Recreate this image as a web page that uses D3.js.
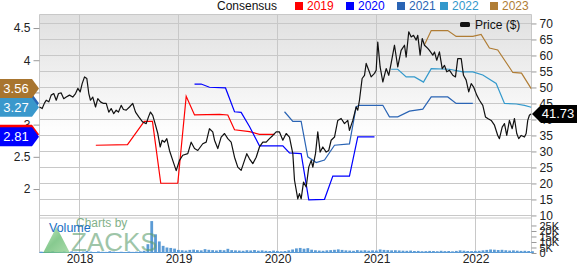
<!DOCTYPE html>
<html><head><meta charset="utf-8">
<script src="https://cdn.jsdelivr.net/npm/d3@7/dist/d3.min.js"></script>
<style>body{margin:0;background:#fff}svg{display:block;font-family:"Liberation Sans",Arial,sans-serif}</style>
</head><body><svg id="c" width="577" height="265"></svg>
<script>
// ---------- data (dates as decimal years) ----------
const years = [2018, 2019, 2020, 2021, 2022];
const epsTicks = [2, 2.5, 3, 3.5, 4, 4.5];
const priceTicks = [10, 15, 20, 25, 30, 35, 40, 45, 50, 55, 60, 65, 70];
const volTicks = [0, 5, 10, 15, 20, 25];
const seriesNames = ["2019", "2020", "2021", "2022", "2023"];
const seriesColors = ["#ff0000", "#0000ff", "#2a64b4", "#3399cc", "#b07d35"];
const badgeColors = ["#ff0000", "#0000ff", "#2a64b4", "#3a98cc", "#a8752f"];
const badgeLabelShown = [false, true, false, true, true];

const priceDates = [2017.596,2017.623,2017.646,2017.664,2017.690,2017.714,2017.740,2017.765,2017.788,2017.815,2017.841,2017.866,2017.899,2017.932,2017.960,2017.983,2018.007,2018.027,2018.051,2018.074,2018.094,2018.111,2018.134,2018.162,2018.185,2018.212,2018.242,2018.270,2018.296,2018.320,2018.346,2018.371,2018.394,2018.421,2018.444,2018.472,2018.505,2018.538,2018.566,2018.599,2018.639,2018.674,2018.697,2018.717,2018.740,2018.768,2018.791,2018.815,2018.835,2018.859,2018.882,2018.909,2018.942,2018.977,2019.010,2019.043,2019.094,2019.128,2019.162,2019.195,2019.245,2019.280,2019.313,2019.346,2019.364,2019.397,2019.431,2019.465,2019.498,2019.532,2019.566,2019.599,2019.633,2019.667,2019.690,2019.717,2019.751,2019.785,2019.818,2019.852,2019.886,2019.919,2019.953,2019.987,2020.020,2020.054,2020.088,2020.121,2020.155,2020.172,2020.205,2020.222,2020.239,2020.263,2020.290,2020.316,2020.341,2020.357,2020.384,2020.407,2020.431,2020.458,2020.492,2020.518,2020.542,2020.576,2020.609,2020.643,2020.677,2020.710,2020.727,2020.761,2020.795,2020.811,2020.828,2020.855,2020.879,2020.896,2020.922,2020.946,2020.980,2020.997,2021.013,2021.037,2021.064,2021.098,2021.124,2021.148,2021.182,2021.215,2021.249,2021.283,2021.300,2021.326,2021.351,2021.374,2021.401,2021.417,2021.441,2021.462,2021.485,2021.518,2021.535,2021.569,2021.586,2021.609,2021.636,2021.664,2021.687,2021.710,2021.737,2021.771,2021.798,2021.821,2021.856,2021.879,2021.906,2021.932,2021.957,2021.980,2022.013,2022.040,2022.074,2022.101,2022.124,2022.159,2022.192,2022.225,2022.242,2022.270,2022.293,2022.316,2022.343,2022.371,2022.394,2022.417,2022.437,2022.462,2022.495,2022.512,2022.528,2022.545,2022.561];
const priceValues = [43.9,43.4,45.1,46.0,45.5,47.6,48.1,46.0,48.1,48.3,46.5,47.0,47.6,47.0,48.1,49.7,48.6,51.2,53.3,52.8,48.1,46.0,47.0,43.9,46.5,45.5,45.0,45.0,42.3,43.4,41.8,42.9,42.3,44.4,43.1,42.9,43.9,45.0,42.3,40.8,39.2,38.7,40.8,42.3,41.3,38.2,35.6,31.4,33.5,32.9,34.0,30.3,27.2,24.0,27.2,28.8,29.3,32.9,30.9,30.3,32.4,32.9,37.1,36.1,33.5,30.9,34.5,35.6,34.0,32.9,28.2,25.1,24.1,27.2,29.3,27.7,26.2,28.2,31.4,32.9,32.9,34.0,35.0,36.1,36.1,33.5,35.6,34.5,29.3,21.0,15.2,16.8,15.2,20.4,18.9,25.1,27.2,25.1,29.3,36.1,29.8,31.4,29.8,30.3,33.5,34.5,39.7,40.3,38.7,39.7,36.6,39.7,43.9,42.9,46.0,52.8,53.8,57.5,55.4,53.3,54.4,55.4,64.2,56.4,51.7,55.9,53.8,57.5,63.2,56.4,61.6,63.2,59.5,67.4,65.8,66.3,64.8,66.3,60.1,65.3,63.2,62.2,61.6,60.1,61.1,58.5,61.1,55.9,56.9,54.9,55.4,53.8,53.3,59.0,59.0,53.8,52.3,48.6,51.2,50.2,47.6,46.0,44.4,40.8,40.3,39.7,38.2,35.0,34.0,37.6,38.7,35.0,39.7,37.1,40.3,35.6,34.0,35.0,34.5,35.6,39.7,41.3,41.73];

const c2019Dates = [2018.165,2018.485,2018.654,2018.737,2018.821,2018.993,2019.078,2019.162,2019.414,2019.498,2019.566,2019.717,2019.818,2019.970];
const c2019Values = [2.68,2.69,3.05,3.05,2.09,2.09,3.44,3.15,3.16,3.15,2.92,2.89,2.85,2.85];
const c2020Dates = [2019.162,2019.229,2019.313,2019.475,2019.566,2019.633,2019.717,2019.818,2020.054,2020.121,2020.239,2020.316,2020.475,2020.559,2020.727,2020.811,2020.980];
const c2020Values = [3.63,3.63,3.58,3.57,3.20,3.19,2.97,2.67,2.67,2.56,2.55,1.83,1.84,2.20,2.20,2.81,2.81];
const c2021Dates = [2020.071,2020.155,2020.239,2020.306,2020.391,2020.475,2020.576,2020.727,2020.795,2020.828,2021.064,2021.131,2021.215,2021.333,2021.468,2021.553,2021.720,2021.805,2021.973];
const c2021Values = [3.20,3.05,3.05,2.50,2.41,2.45,2.68,2.70,3.28,3.30,3.30,3.12,3.12,3.21,3.24,3.43,3.43,3.33,3.33];
const c2022Dates = [2021.148,2021.215,2021.300,2021.384,2021.475,2021.553,2021.737,2021.872,2021.973,2022.074,2022.209,2022.293,2022.411,2022.495,2022.563];
const c2022Values = [3.86,3.86,3.74,3.74,3.66,3.87,3.86,3.82,3.82,3.77,3.64,3.33,3.32,3.30,3.27];
const c2023Dates = [2021.485,2021.553,2021.720,2021.805,2021.973,2022.057,2022.141,2022.225,2022.377,2022.465,2022.563];
const c2023Values = [4.24,4.46,4.46,4.37,4.37,4.40,4.19,4.16,3.81,3.80,3.56];

// volume in thousands, one value every two weeks starting at volStart
const volStart = 2017.60;
const volValues = [1.2,0.9,1.1,1.4,0.8,1.0,1.3,0.9,1.5,1.1,
  1.0,1.3,1.8,1.2,0.9,1.4,1.1,1.0,1.6,1.2,0.8,1.1,0.9,1.3,1.0,1.2,1.5,2.0,
  8.0,29,17,10.5,6.5,5.0,4.6,4.0,2.8,
  2.5,2.2,2.8,3.1,2.6,2.4,3.5,2.9,2.6,2.3,2.8,2.5,3.8,2.6,2.4,2.2,2.0,2.5,2.3,2.7,2.1,2.4,2.0,1.8,2.2,1.9,
  1.5,1.8,2.4,3.2,4.2,4.6,3.9,4.4,3.0,2.5,2.2,2.0,2.4,2.6,2.9,3.3,2.8,2.4,2.2,2.0,2.6,2.3,2.5,2.1,2.4,2.2,
  3.2,2.8,2.6,2.4,2.5,2.3,2.1,2.0,2.2,1.8,1.9,1.6,1.7,1.9,1.8,1.6,2.0,1.7,1.8,1.5,1.9,2.4,2.1,1.8,1.7,1.9,
  2.0,2.4,2.8,3.2,3.0,2.7,2.9,2.5,2.2,2.4,2.1,1.9,2.0,1.8,1.6];

// ---------- layout ----------
const L = 39.5, R = 531.5, T = 14.5, MB = 218, VB = 253;
const svg = d3.select("#c");
const x = d3.scaleLinear().domain([2017.596, 2022.566]).range([L, R]);
const yEps = d3.scaleLinear().domain([1.55, 4.71]).range([MB, T]);
const yPrice = d3.scaleLinear().domain([9.2, 72.8]).range([MB, T]);
const yVol = d3.scaleLinear().domain([0, 31.8]).range([VB, MB]);

const defs = svg.append("defs");
const g = defs.append("linearGradient").attr("id", "bg").attr("x1", 0).attr("y1", 0).attr("x2", 0).attr("y2", 1);
g.append("stop").attr("offset", 0).attr("stop-color", "#e0e0e0");
g.append("stop").attr("offset", 0.6).attr("stop-color", "#ffffff");
const tg = defs.append("linearGradient").attr("id", "tri").attr("x1", 0).attr("y1", 0).attr("x2", 1).attr("y2", 1);
tg.append("stop").attr("offset", 0).attr("stop-color", "#b8e6b0");
tg.append("stop").attr("offset", 0.5).attr("stop-color", "#5fb86a");
tg.append("stop").attr("offset", 1).attr("stop-color", "#8fd08f");

svg.append("rect").attr("x", L).attr("y", T).attr("width", R - L).attr("height", MB - T).attr("fill", "url(#bg)");

// grid
const grid = svg.append("g").attr("stroke", "#c8c8c8").attr("stroke-width", 1);
grid.selectAll(".h").data(priceTicks).join("line")
  .attr("x1", L).attr("x2", R).attr("y1", d => Math.round(yPrice(d)) + 0.5).attr("y2", d => Math.round(yPrice(d)) + 0.5);
grid.selectAll(".v").data(years).join("line")
  .attr("x1", d => Math.round(x(d)) + 0.5).attr("x2", d => Math.round(x(d)) + 0.5).attr("y1", T).attr("y2", VB);
grid.append("line").attr("x1", L).attr("x2", R).attr("y1", MB).attr("y2", MB);
grid.append("line").attr("x1", L).attr("x2", R).attr("y1", T).attr("y2", T);
grid.append("line").attr("x1", L).attr("x2", L).attr("y1", T).attr("y2", VB);
grid.append("line").attr("x1", R).attr("x2", R).attr("y1", T).attr("y2", VB);

// volume bars
const step = 1 / 26;
const bw = x(volStart + step) - x(volStart);
svg.append("g").selectAll("rect").data(volValues).join("rect")
  .attr("x", (d, i) => x(volStart + i * step))
  .attr("width", Math.max(1, bw - 1))
  .attr("y", d => yVol(d))
  .attr("height", d => VB - yVol(d))
  .attr("fill", "#5b9bd5");
svg.append("line").attr("x1", L).attr("x2", R).attr("y1", VB - 0.5).attr("y2", VB - 0.5).attr("stroke", "#5b9bd5");

// watermark
svg.append("path").attr("d", "M43,253 L56.5,227 L70,253 Z").attr("fill", "url(#tri)").attr("opacity", 0.75);
svg.append("text").attr("x", 71).attr("y", 251).attr("font-size", 26).attr("fill", "#5f9f6f").attr("opacity", 0.6).text("ZACKS");
svg.append("text").attr("x", 76).attr("y", 227).attr("font-size", 12).attr("fill", "#74a97c").attr("opacity", 0.9).text("Charts by");
svg.append("text").attr("x", 49).attr("y", 232).attr("font-size", 12.5).attr("fill", "#1a6fc4").text("Volume");

// consensus lines
const consDates = [c2019Dates, c2020Dates, c2021Dates, c2022Dates, c2023Dates];
const consValues = [c2019Values, c2020Values, c2021Values, c2022Values, c2023Values];
const line = d3.line().x(d => x(d[0])).y(d => d[1]);
consDates.forEach((ds, k) => {
  const pts = ds.map((t, i) => [t, yEps(consValues[k][i])]);
  svg.append("path").attr("d", line(pts)).attr("fill", "none")
    .attr("stroke", seriesColors[k]).attr("stroke-width", 1.2);
});

// price line
const ppts = priceDates.map((t, i) => [t, yPrice(priceValues[i])]);
svg.append("path").attr("d", line(ppts)).attr("fill", "none").attr("stroke", "#111").attr("stroke-width", 1.2).attr("stroke-linejoin", "round");

// axes
const fontSize = 12;
const axL = svg.append("g").attr("transform", `translate(${L},0)`)
  .call(d3.axisLeft(yEps).tickValues(epsTicks).tickSize(6).tickPadding(3).tickFormat(d3.format("")));
const axR = svg.append("g").attr("transform", `translate(${R},0)`)
  .call(d3.axisRight(yPrice).tickValues(priceTicks).tickSize(5).tickPadding(3));
const axV = svg.append("g").attr("transform", `translate(${R},0)`)
  .call(d3.axisRight(yVol).tickValues(volTicks).tickSize(5).tickPadding(3).tickFormat(d => d ? d + "K" : "0"));
const axB = svg.append("g").attr("transform", `translate(0,${VB - 2})`)
  .call(d3.axisBottom(x).tickValues(years).tickSize(0).tickPadding(3).tickFormat(d3.format("d")));
[axL, axR, axV, axB].forEach(a => {
  a.select(".domain").remove();
  a.selectAll("line").attr("stroke", "#999");
  a.selectAll("text").attr("font-size", fontSize).attr("fill", "#222").attr("font-family", "Liberation Sans, Arial, sans-serif");
});
axV.selectAll("text").attr("font-size", 11);

// left badges (last consensus values); hidden ones drawn first, without labels
[0, 1, 2, 3, 4].forEach(k => {
  const v = consValues[k][consValues[k].length - 1];
  const cy = yEps(v);
  svg.append("path").attr("d", `M0,${cy - 9.5} L32,${cy - 9.5} L39,${cy} L32,${cy + 9.5} L0,${cy + 9.5} Z`)
    .attr("fill", badgeColors[k]);
  if (badgeLabelShown[k]) {
    svg.append("text").attr("x", 16).attr("y", cy + 4.5).attr("text-anchor", "middle")
      .attr("font-size", 13).attr("fill", "#fff").text(v.toFixed(2));
  }
});

// right price badge
const lastP = priceValues[priceValues.length - 1];
const py = yPrice(lastP);
svg.append("path").attr("d", `M${R + 0.5},${py} L541,${py - 9} L577,${py - 9} L577,${py + 9} L541,${py + 9} Z`).attr("fill", "#000");
svg.append("text").attr("x", 558).attr("y", py + 4.5).attr("text-anchor", "middle").attr("font-size", 13).attr("fill", "#fff").text(lastP.toFixed(2));

// legend
const lg = svg.append("g").attr("font-size", 12);
lg.append("text").attr("x", 217).attr("y", 10).attr("fill", "#111").text("Consensus");
const legX = [295, 346, 397, 440, 490];
seriesNames.forEach((n, k) => {
  lg.append("rect").attr("x", legX[k]).attr("y", 2).attr("width", 8).attr("height", 8).attr("fill", seriesColors[k]);
  lg.append("text").attr("x", legX[k] + 12).attr("y", 10).attr("fill", seriesColors[k]).text(n);
});
svg.append("rect").attr("x", 460).attr("y", 22).attr("width", 10).attr("height", 5).attr("rx", 1.5).attr("fill", "#111");
svg.append("text").attr("x", 475).attr("y", 29).attr("font-size", 12).attr("fill", "#111").text("Price ($)");
</script></body></html>
